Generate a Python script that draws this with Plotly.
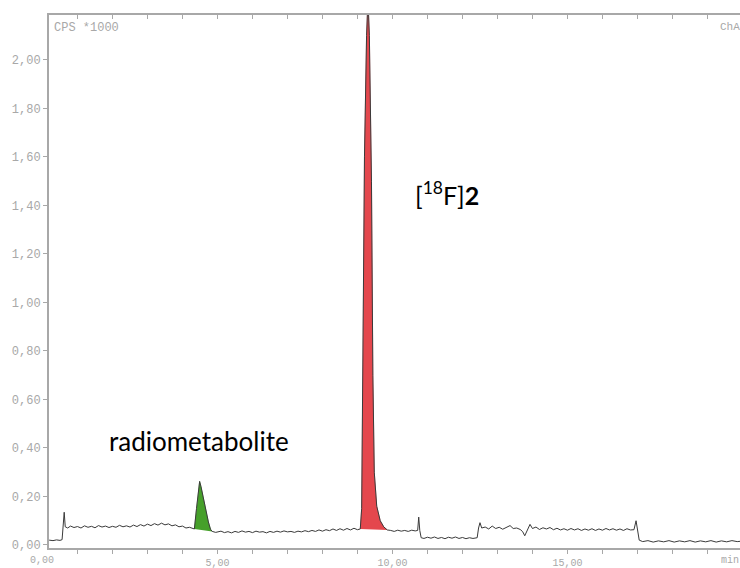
import numpy as np
import plotly.graph_objects as go

# Chromatogram (time in min, counts in CPS*1000)
time_min = [
    0.19, 0.30, 0.40, 0.50, 0.56, 0.59, 0.62, 0.65, 0.72, 0.80, 0.90, 1.00, 1.10, 1.20, 1.30,
    1.40, 1.50, 1.60, 1.70, 1.80, 1.90, 2.00, 2.10, 2.20, 2.30, 2.40, 2.50, 2.60, 2.70, 2.80,
    2.90, 3.00, 3.10, 3.20, 3.30, 3.40, 3.50, 3.60, 3.70, 3.80, 3.90, 4.00, 4.10, 4.20, 4.30,
    4.34, 4.40, 4.46, 4.49, 4.53, 4.60, 4.67, 4.74, 4.80, 4.85,
    4.95, 5.10, 5.20, 5.30, 5.40, 5.50, 5.60, 5.70, 5.80, 5.90, 6.00, 6.10, 6.20, 6.30, 6.40,
    6.50, 6.60, 6.70, 6.80, 6.90, 7.00, 7.10, 7.20, 7.30, 7.40, 7.50, 7.60, 7.70, 7.80, 7.90,
    8.00, 8.10, 8.20, 8.30, 8.40, 8.50, 8.60, 8.70, 8.80, 8.90, 9.00,
    9.08, 9.12, 9.16, 9.20, 9.26, 9.30, 9.34, 9.40, 9.44, 9.48, 9.55, 9.65, 9.75, 9.85,
    9.95, 10.05, 10.15, 10.25, 10.35, 10.45, 10.55, 10.65, 10.72, 10.75, 10.78, 10.82, 10.90,
    11.00, 11.10, 11.20, 11.30, 11.40, 11.50, 11.60, 11.70, 11.80, 11.90, 12.00, 12.10, 12.20,
    12.30, 12.42, 12.46, 12.50, 12.55, 12.65, 12.75, 12.85, 12.95, 13.05, 13.15, 13.25, 13.36,
    13.45, 13.55, 13.65, 13.72, 13.78, 13.85, 13.93, 14.00, 14.10, 14.20, 14.30, 14.40, 14.50,
    14.60, 14.70, 14.80, 14.90, 15.00, 15.10, 15.20, 15.30, 15.40, 15.50, 15.60, 15.70, 15.80,
    15.90, 16.00, 16.10, 16.20, 16.30, 16.40, 16.50, 16.60, 16.70, 16.80, 16.90, 16.96, 17.00,
    17.05, 17.15, 17.30, 17.45, 17.60, 17.75, 17.90, 18.05, 18.20, 18.35, 18.50, 18.65, 18.80,
    18.95, 19.10, 19.25, 19.40, 19.55, 19.70, 19.85, 20.00,
]
cps_k = [
    0.020, 0.018, 0.021, 0.019, 0.022, 0.100, 0.135, 0.075, 0.070, 0.078, 0.072, 0.076, 0.070, 0.079, 0.073,
    0.077, 0.071, 0.080, 0.074, 0.078, 0.072, 0.077, 0.073, 0.081, 0.075, 0.079, 0.074, 0.082, 0.076, 0.084,
    0.078, 0.086, 0.080, 0.088, 0.082, 0.090, 0.083, 0.087, 0.079, 0.083, 0.075, 0.078, 0.070, 0.073, 0.068,
    0.066, 0.150, 0.240, 0.262, 0.240, 0.190, 0.140, 0.095, 0.065, 0.056,
    0.052, 0.057, 0.051, 0.055, 0.050, 0.056, 0.052, 0.058, 0.053, 0.056, 0.051, 0.057, 0.053, 0.055, 0.050,
    0.056, 0.052, 0.057, 0.053, 0.058, 0.054, 0.056, 0.052, 0.057, 0.054, 0.059, 0.055, 0.060, 0.056, 0.062,
    0.057, 0.063, 0.059, 0.066, 0.060, 0.067, 0.061, 0.068, 0.062, 0.069, 0.063,
    0.066, 0.150, 0.800, 1.600, 2.100, 2.250, 2.100, 1.500, 0.700, 0.300, 0.160, 0.100, 0.075, 0.062,
    0.060, 0.056, 0.061, 0.057, 0.060, 0.056, 0.061, 0.058, 0.060, 0.115, 0.060, 0.030, 0.027,
    0.032, 0.028, 0.033, 0.027, 0.031, 0.026, 0.032, 0.028, 0.033, 0.027, 0.031, 0.026, 0.030,
    0.027, 0.030, 0.070, 0.092, 0.070, 0.074, 0.066, 0.078, 0.068, 0.073, 0.065, 0.072, 0.080,
    0.068, 0.070, 0.064, 0.055, 0.038, 0.060, 0.085, 0.068, 0.074, 0.064, 0.071, 0.066, 0.072,
    0.063, 0.069, 0.062, 0.067, 0.061, 0.068, 0.062, 0.067, 0.060, 0.066, 0.061, 0.067, 0.060,
    0.066, 0.061, 0.068, 0.062, 0.067, 0.061, 0.066, 0.060, 0.067, 0.062, 0.063, 0.100, 0.060,
    0.020, 0.014, 0.018, 0.012, 0.017, 0.013, 0.018, 0.012, 0.017, 0.013, 0.018, 0.012, 0.017,
    0.013, 0.018, 0.012, 0.017, 0.013, 0.018, 0.014, 0.016,
]

metabolite_window = [4.34, 4.85]
product_window = [9.08, 9.85]

x_tick_vals = [0, 5, 10, 15]
x_tick_text = ["0,00", "5,00", "10,00", "15,00"]
y_tick_vals = [0.0, 0.2, 0.4, 0.6, 0.8, 1.0, 1.2, 1.4, 1.6, 1.8, 2.0]
y_tick_text = ["0,00", "0,20", "0,40", "0,60", "0,80", "1,00", "1,20", "1,40", "1,60", "1,80", "2,00"]

t = np.array(time_min)
v = np.array(cps_k)

AX = "#a8a8a8"
MONO = "Liberation Mono"

fig = go.Figure()


def peak_fill(window, color):
    m = (t >= window[0]) & (t <= window[1])
    fig.add_trace(go.Scatter(x=t[m], y=v[m], fill="toself", fillcolor=color,
                             mode="lines", line=dict(color=color, width=0.5),
                             hoverinfo="skip", showlegend=False))


peak_fill(metabolite_window, "#46a02a")
peak_fill(product_window, "#e4474d")

fig.add_trace(go.Scatter(x=t, y=v, mode="lines", line=dict(color="#3a3a3a", width=1),
                         showlegend=False))
# invisible helper for the top axis
fig.add_trace(go.Scatter(x=[t[0]], y=[v[0]], mode="markers", opacity=0, xaxis="x2",
                         hoverinfo="skip", showlegend=False))

xr = [0.186, 19.93]
# the 0,00 tick lies left of the visible range, so place its label in paper coordinates
zero_label_x = (x_tick_vals[0] - xr[0]) / (xr[1] - xr[0])

fig.update_layout(
    width=740, height=568,
    margin=dict(l=49, r=0, t=15, b=20),
    paper_bgcolor="white", plot_bgcolor="white",
    xaxis=dict(range=xr, showgrid=False, zeroline=False, showline=True, linecolor=AX, linewidth=2,
               ticks="outside", ticklen=4, tickcolor=AX, tickvals=x_tick_vals, ticktext=x_tick_text,
               minor=dict(dtick=1, tick0=0, ticks="outside", ticklen=4, tickcolor=AX, showgrid=False),
               tickfont=dict(family=MONO, size=10, color=AX), automargin=False),
    xaxis2=dict(range=xr, overlaying="x", side="top", showgrid=False, zeroline=False, showline=True,
                linecolor=AX, linewidth=2, ticks="inside", ticklen=4, tickcolor=AX, dtick=1, tick0=0,
                showticklabels=False, automargin=False),
    yaxis=dict(range=[-0.0124, 2.185], showgrid=False, zeroline=False, showline=True, linecolor=AX,
               linewidth=2, ticks="outside", ticklen=4, tickcolor=AX, tickvals=y_tick_vals,
               ticktext=y_tick_text, tickfont=dict(family=MONO, size=12, color=AX), automargin=False),
    annotations=[
        dict(text="CPS *1000", xref="paper", yref="paper", x=0.004, y=1, xanchor="left", yanchor="top",
             yshift=-4, showarrow=False, font=dict(family=MONO, size=12, color=AX)),
        dict(text="ChA", xref="paper", yref="paper", x=0.968, y=1, xanchor="left", yanchor="top",
             yshift=-4, showarrow=False, font=dict(family=MONO, size=11, color=AX)),
        dict(text=x_tick_text[0], xref="paper", x=zero_label_x, yref="paper", y=0, xanchor="center",
             yanchor="top", yshift=-5, showarrow=False, font=dict(family=MONO, size=10, color=AX)),
        dict(text="min", xref="paper", yref="paper", x=0.97, y=0, xanchor="left", yanchor="top",
             yshift=-5, showarrow=False, font=dict(family=MONO, size=10, color=AX)),
        dict(text="radiometabolite", x=4.46, y=0.43, showarrow=False,
             font=dict(family="Lato", size=26, color="black")),
        dict(text="[<sup>18</sup>F]<b>2</b>", x=11.56, y=1.45, showarrow=False,
             font=dict(family="Lato", size=25, color="black")),
    ],
)

fig.write_html("out.html", config={"displayModeBar": False},
               post_script="document.body.style.margin='0';document.body.style.overflow='hidden';")
